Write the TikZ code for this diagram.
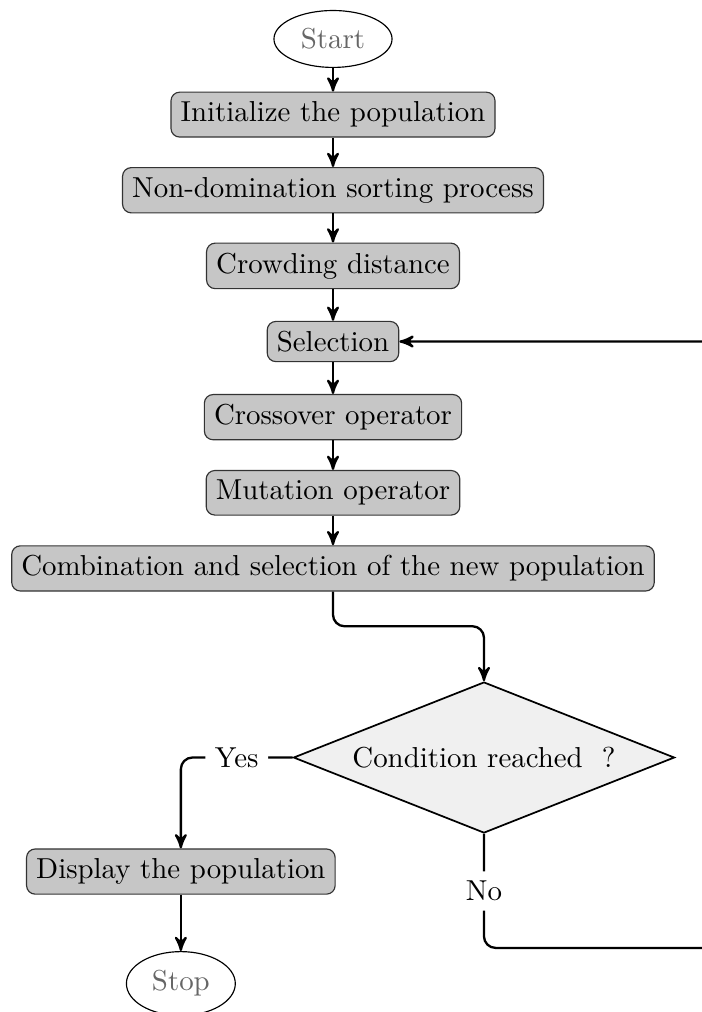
\documentclass[tikz,border=0pt]{standalone}
\usepackage{xcolor}
\usetikzlibrary{arrows,shapes.geometric,positioning,calc}

\begin{document}
\begin{tikzpicture}[node distance=26.2pt,on grid,>=stealth']
% Colors
\colorlet{boxcolor}{gray!45}
\colorlet{decisioncolor}{gray!12}
\colorlet{terminaltext}{black!60}
% Styles
\tikzstyle{terminal}=[ellipse,draw,text=terminaltext]
\tikzstyle{process box}=[rectangle,rounded corners=3pt,draw=black!80,fill=boxcolor]
\tikzstyle{decision}=[diamond,aspect=2.5,semithick,draw,fill=decisioncolor,inner sep=1pt,minimum width=132pt,minimum height=52.3pt]
\tikzstyle{connector}=[->,thick,rounded corners]
\tikzstyle{answer}=[fill=white]
% Frame of the page
\useasboundingbox (-115.35pt,13.5pt) rectangle (127.5pt,-337.05pt);
% The graphic
\node[terminal] (start) {Start};
\node[process box,below=of start] (init) {Initialize the population};
\node[process box,below=of init] (sort) {Non-domination sorting process};
\node[process box,below=of sort] (crowd) {Crowding distance};
\node[process box,below=of crowd] (select) {Selection};
\node[process box,below=of select] (cross) {Crossover operator};
\node[process box,below=of cross] (mutate) {Mutation operator};
\node[process box,below=of mutate] (combine) {Combination and selection of the new population};
\node[decision,below right=65.5pt and 52.3pt of combine] (cond) {Condition reached ~?};
\node[process box,below left=39.5pt and 105pt of cond] (display) {Display the population};
\node[terminal,below=38.8pt of display] (stop) {Stop};
\coordinate (back) at ($(cond.south)+(82pt,-39.5pt)$);
% Connectors
\foreach \from/\to in {start/init,init/sort,sort/crowd,crowd/select,select/cross,cross/mutate,mutate/combine}
\draw[connector] (\from) -- (\to);
\draw[connector] (combine.south) -- ++(0,-12pt) -| (cond.north);
\draw[connector] (cond.west) -| node[answer,pos=0.25] {Yes} (display.north);
\draw[connector] (display) -- (stop);
\draw[connector] (cond.south) -- node[answer] {No} (cond.south |- back) -- (back) |- (select.east);
\end{tikzpicture}
\end{document}
